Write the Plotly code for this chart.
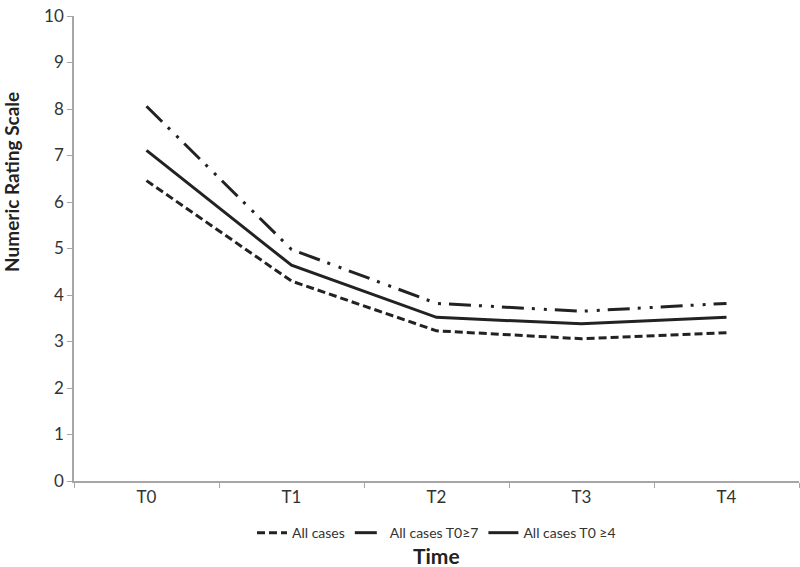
import plotly.graph_objects as go

times = ["T0", "T1", "T2", "T3", "T4"]
all_cases = [6.46, 4.30, 3.23, 3.06, 3.19]
cases_ge7 = [8.06, 4.98, 3.82, 3.65, 3.82]
cases_ge4 = [7.11, 4.64, 3.52, 3.38, 3.52]
y_ticks = [0, 1, 2, 3, 4, 5, 6, 7, 8, 9, 10]

fnt = "Lato, 'Open Sans', Arial, sans-serif"
ink = "#222222"

fig = go.Figure()
fig.add_trace(go.Scatter(x=times, y=all_cases, mode="lines", name="All cases",
                         line=dict(color=ink, width=3, dash="8px,4px")))
fig.add_trace(go.Scatter(x=times, y=cases_ge7, mode="lines", name="All cases T0\u22657",
                         line=dict(color=ink, width=3, dash="22px,8px,3px,9px,3px,8px")))
fig.add_trace(go.Scatter(x=times, y=cases_ge4, mode="lines", name="All cases T0 \u22654",
                         line=dict(color=ink, width=3)))

fig.update_layout(
    width=800, height=567,
    margin=dict(l=74, r=1, t=16, b=86, autoexpand=False),
    plot_bgcolor="white", paper_bgcolor="white",
    font=dict(family=fnt, color="#333333", size=17),
    showlegend=True,
    legend=dict(orientation="h", x=0.5, xanchor="center", y=-0.112, yanchor="middle",
                font=dict(size=14, color="#333333"), tracegroupgap=0,
                bgcolor="rgba(0,0,0,0)"),
    annotations=[
        dict(text="<b>Time</b>", x=0.5, y=-0.16, xref="paper", yref="paper",
             xanchor="center", yanchor="middle", showarrow=False,
             font=dict(size=21, color="#222222")),
        dict(text="<b>Numeric Rating Scale</b>", x=-0.087, y=0.643, xref="paper", yref="paper",
             xanchor="center", yanchor="middle", showarrow=False, textangle=-90,
             font=dict(size=19, color="#222222")),
    ],
)
fig.update_xaxes(
    type="category", range=[-0.5, 4.5], automargin=False,
    showline=True, linecolor="#a6a6a6", linewidth=1.5,
    ticks="outside", tickson="boundaries", ticklen=5, tickcolor="#a6a6a6",
    showgrid=False, zeroline=False,
    tickfont=dict(size=17, color="#333333"),
)
fig.update_yaxes(
    range=[0, 10.001], tickmode="array", tickvals=y_ticks, automargin=False,
    showline=True, linecolor="#a6a6a6", linewidth=1.5,
    ticks="outside", ticklen=5, tickcolor="#a6a6a6",
    showgrid=False, zeroline=False,
    tickfont=dict(size=17, color="#333333"),
)

# drop the page's default 8px body margin so the figure sits at the corner
fig.write_html("out.html", config={"displayModeBar": False},
               post_script="document.body.style.margin='0';")
